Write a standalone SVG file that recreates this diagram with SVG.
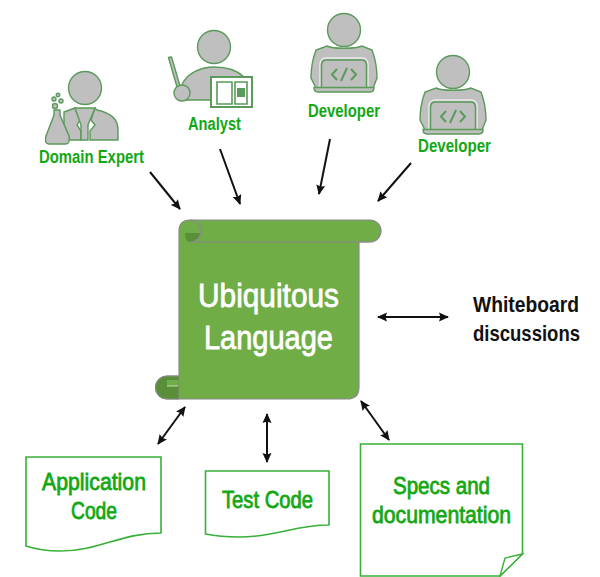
<svg xmlns="http://www.w3.org/2000/svg" width="600" height="577" viewBox="0 0 600 577">
<defs>
<marker id="ah" viewBox="0 0 10 10" refX="9" refY="5" markerWidth="5" markerHeight="5" orient="auto-start-reverse" markerUnits="strokeWidth"><path d="M0 0.5L10 5L0 9.5L1.500 5Z" fill="#111"/></marker>
<g id="dev">
<circle cx="344" cy="30" r="16.5" class="p"/>
<path d="M327 46C333 49 355 49 362 46L372 50C375 58 377 70 377 78L373 88H316L311 78C311 70 313 58 316 50Z" class="p"/>
<path d="M320 88V64Q320 58 326 58H362Q368 58 368 64V88" fill="none" stroke="#fff" stroke-width="1"/>
<path d="M321.500 88V65Q321.500 60 327 60H361Q366.500 60 366.500 65V88" fill="none" stroke="#5a9a5a" stroke-width="1.500"/>
<path d="M314 87.500H374Q374 92 370 92H318Q314 92 314 87.500Z" class="p"/>
<path d="M337 69L332 74.500L337 80M351 69L356 74.500L351 80M347 68L341 81" fill="none" stroke="#5a9a5a" stroke-width="2"/>
</g>
</defs>
<style>
.p{fill:#bfbfbf;stroke:#5a9a5a;stroke-width:1.4}
.lbl{font-family:"Liberation Sans",Arial,sans-serif;fill:#13a813;font-weight:bold;font-size:17.500px}
.doc{font-family:"Liberation Sans",Arial,sans-serif;fill:#13a813;stroke:#13a813;stroke-width:.8;font-size:24px}
.sh{fill:#fff;stroke:#38b038;stroke-width:1.6}
.bl{font-family:"Liberation Sans",Arial,sans-serif;fill:#111;font-weight:bold;font-size:22px}
.wh{font-family:"Liberation Sans",Arial,sans-serif;fill:#fff;stroke:#fff;stroke-width:.8;font-size:34px}
.ar{stroke:#111;stroke-width:2;fill:none;marker-end:url(#ah)}
.ar2{stroke:#111;stroke-width:2;fill:none;marker-end:url(#ah);marker-start:url(#ah)}
</style>
<g id="connectors">
<path class="ar" d="M150 172L180 209"/>
<path class="ar" d="M220 149L240 204"/>
<path class="ar" d="M330 139L319 194"/>
<path class="ar" d="M411 163L378 201"/>
<path class="ar2" d="M378 317L448 317"/>
<path class="ar2" d="M158 444L185 407"/>
<path class="ar2" d="M267 414L267 462"/>
<path class="ar2" d="M361 401L389 440"/>
</g>
<g id="domain-expert">
<circle cx="85" cy="88" r="16.500" class="p"/>
<path d="M64 112L75 108L80 120L77 125L81 131V140H70L64 125Z" class="p"/>
<path d="M97 110C110 113 118 118 118 130V140H90V131L95 125L91 120L95 108Z" class="p"/>
<path d="M75 108H95L88 125V140H81V125Z" class="p"/>
<path d="M54 110H60V115L69 136Q70 144 66 144H49Q44 144 46 136L54 115Z" class="p"/>
<circle cx="55" cy="106" r="2.500" class="p"/><circle cx="61" cy="101" r="2" class="p"/><circle cx="54" cy="99" r="2" class="p"/><circle cx="58" cy="95" r="1.800" class="p"/>
<text class="lbl" x="39" y="163" textLength="105" lengthAdjust="spacingAndGlyphs">Domain Expert</text>
</g>
<g id="analyst">
<circle cx="214" cy="47" r="16.500" class="p"/>
<path d="M168.500 57.500L171.500 57L180 86L177 87Z" class="p" stroke-linejoin="round"/>
<path d="M182 85C186 74 200 67 214 67C228 67 238 71 244 77H211V100H184Z" class="p"/>
<circle cx="182" cy="93" r="8" class="p"/>
<path d="M211 77H252V107H211Z" fill="#fff" stroke="#5a9a5a" stroke-width="2"/>
<path d="M217 82H232V104H217ZM235 82H247V104H235Z" fill="#fff" stroke="#5a9a5a" stroke-width="1.600"/>
<path d="M237 88H245V97H237Z" fill="#5a9a5a"/>
<text class="lbl" x="188" y="130" textLength="53" lengthAdjust="spacingAndGlyphs">Analyst</text>
</g>
<g id="developer-1">
<use href="#dev"/>
<text class="lbl" x="308" y="117" textLength="72" lengthAdjust="spacingAndGlyphs">Developer</text>
</g>
<g id="developer-2">
<use href="#dev" x="109" y="42"/>
<text class="lbl" x="418" y="152" textLength="73" lengthAdjust="spacingAndGlyphs">Developer</text>
</g>
<g id="ubiquitous-language">
<path d="M190 220H370A11 11 0 0 1 370 242H359V387Q359 399 347 399H167A11.500 11.500 0 0 1 167 376H179V231Q179 220 190 220Z" fill="#70ad47" stroke="#8a8a8a" stroke-width="1.200"/>
<path d="M185 233H201A11 11 0 0 1 190 242Q185 242 185 233Z" fill="#5a8f3a"/>
<path d="M190 220A11 11 0 0 1 190 242H370" fill="none" stroke="#8a8a8a" stroke-width="1.200"/>
<path d="M179 376V399H167A11.500 11.500 0 0 1 167 376Z" fill="#5a8f3a" stroke="#8a8a8a" stroke-width="1"/>
<path d="M167 380H178.500V386H167Z" fill="#70ad47"/>
<path d="M167 386H178" fill="none" stroke="#c8d8b8" stroke-width="1"/>
<text class="wh" x="198" y="307" textLength="141" lengthAdjust="spacingAndGlyphs">Ubiquitous</text>
<text class="wh" x="204" y="349" textLength="129" lengthAdjust="spacingAndGlyphs">Language</text>
</g>
<g id="whiteboard">
<text class="bl" x="473" y="312" textLength="106" lengthAdjust="spacingAndGlyphs">Whiteboard</text>
<text class="bl" x="473" y="341" textLength="107" lengthAdjust="spacingAndGlyphs">discussions</text>
</g>
<g id="application-code">
<path class="sh" d="M26 457H161V533C120 533 100 551 60 551C45 551 35 549 26 546Z"/>
<text class="doc" x="42" y="490" textLength="104" lengthAdjust="spacingAndGlyphs">Application</text>
<text class="doc" x="71" y="519" textLength="46" lengthAdjust="spacingAndGlyphs">Code</text>
</g>
<g id="test-code">
<path class="sh" d="M205.500 471H329V525C295 525 275 537 240 537C225 537 215 536 205.500 534Z"/>
<text class="doc" x="222" y="508" textLength="91" lengthAdjust="spacingAndGlyphs">Test Code</text>
</g>
<g id="specs">
<path class="sh" d="M360.500 444H522.500V554L500 576H360.500Z"/>
<path d="M522.500 554L505 558L500 576Z" fill="#fff" stroke="#38b038" stroke-width="1.400"/>
<text class="doc" x="393" y="494" textLength="97" lengthAdjust="spacingAndGlyphs">Specs and</text>
<text class="doc" x="372" y="523" textLength="139" lengthAdjust="spacingAndGlyphs">documentation</text>
</g>
</svg>
